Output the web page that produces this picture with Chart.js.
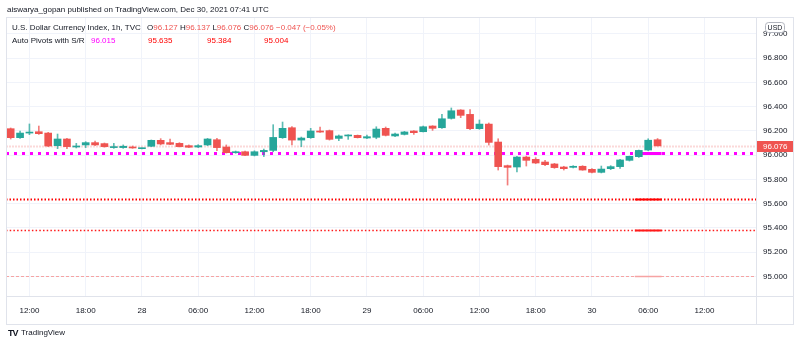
<!DOCTYPE html>
<html>
<head>
<meta charset="utf-8">
<script src="https://cdn.jsdelivr.net/npm/chart.js@4.4.1/dist/chart.umd.min.js"></script>
<style>
  body { margin: 0; background: #fff; font-family: 'Liberation Sans', Arial, sans-serif; }
  #wrap { position: relative; width: 800px; height: 343px; overflow: hidden; }
  #wrap canvas { position: absolute; left: 0; top: 0; }
  .txt { position: absolute; white-space: pre; font-size: 8px; line-height: 10px; color: #131722; }
  .red { color: #ef5350; }
  .mag { color: #ff00ff; }
  .pv { color: #ff0000; }
  .logo { font-weight: 900; font-size: 9px; letter-spacing: -1px; }
</style>
</head>
<body>
<div id="wrap">
  <canvas id="dxy" width="800" height="343"></canvas>
  <div class="txt" style="left:7px; top:5px; font-size:8px;">aiswarya_gopan published on TradingView.com, Dec 30, 2021 07:41 UTC</div>

  <div class="txt" style="left:12px; top:23px;">U.S. Dollar Currency Index, 1h, TVC</div>
  <div class="txt" style="left:147px; top:23px;">O<span class="red">96.127</span> H<span class="red">96.137</span> L<span class="red">96.076</span> C<span class="red">96.076</span> <span class="red">−0.047 (−0.05%)</span></div>

  <div class="txt" style="left:12px; top:36px;">Auto Pivots with S/R</div>
  <div class="txt mag" style="left:91px; top:36px;">96.015</div>
  <div class="txt pv" style="left:148px; top:36px;">95.635</div>
  <div class="txt pv" style="left:207px; top:36px;">95.384</div>
  <div class="txt pv" style="left:264px; top:36px;">95.004</div>

  <div class="txt logo" style="left:8px; top:328px;">TV</div>
  <div class="txt" style="left:21px; top:328px;">TradingView</div>
</div>

<script>
// hourly slots, first candle at Dec 27 10:00 UTC
const startDay = 27;
const startHour = 10;
const slotCount = 80;

const open = [
  96.218, 96.144, 96.182, 96.193, 96.182, 96.078, 96.133, 96.067, 96.084, 96.103,
  96.095, 96.062, 96.062, 96.067, 96.053, 96.073, 96.122, 96.103, 96.097, 96.078,
  96.067, 96.084, 96.127, 96.067, 96.020, 96.028, 95.998, 96.028, 96.039, 96.144,
  96.226, 96.124, 96.144, 96.199, 96.202, 96.138, 96.158, 96.163, 96.141, 96.147,
  96.221, 96.158, 96.171, 96.199, 96.193, 96.240, 96.226, 96.303, 96.372, 96.336,
  96.218, 96.256, 96.108, 95.913, 95.902, 95.984, 95.965, 95.943, 95.927, 95.902,
  95.899, 95.908, 95.883, 95.858, 95.888, 95.905, 95.957, 95.987, 96.042, 96.127
];
const high = [
  96.224, 96.199, 96.257, 96.240, 96.188, 96.174, 96.138, 96.097, 96.111, 96.116,
  96.100, 96.097, 96.084, 96.075, 96.059, 96.125, 96.136, 96.133, 96.103, 96.084,
  96.086, 96.138, 96.138, 96.084, 96.034, 96.034, 96.036, 96.050, 96.251, 96.273,
  96.235, 96.149, 96.221, 96.232, 96.207, 96.166, 96.168, 96.166, 96.166, 96.234,
  96.232, 96.182, 96.196, 96.202, 96.240, 96.243, 96.336, 96.389, 96.375, 96.375,
  96.290, 96.265, 96.135, 95.918, 95.990, 95.992, 95.979, 95.957, 95.932, 95.908,
  95.913, 95.913, 95.888, 95.910, 95.913, 95.965, 95.992, 96.042, 96.135, 96.137
];
const low = [
  96.133, 96.138, 96.169, 96.171, 96.070, 96.053, 96.053, 96.059, 96.062, 96.078,
  96.065, 96.056, 96.056, 96.056, 96.051, 96.070, 96.084, 96.086, 96.067, 96.062,
  96.062, 96.078, 96.036, 96.017, 96.015, 95.996, 95.993, 95.988, 96.028, 96.138,
  96.084, 96.070, 96.138, 96.188, 96.124, 96.119, 96.130, 96.141, 96.135, 96.135,
  96.158, 96.152, 96.166, 96.171, 96.191, 96.204, 96.221, 96.297, 96.309, 96.210,
  96.213, 96.083, 95.877, 95.753, 95.861, 95.910, 95.930, 95.913, 95.891, 95.877,
  95.894, 95.875, 95.853, 95.853, 95.880, 95.891, 95.951, 95.981, 96.036, 96.076
];
const close = [
  96.144, 96.182, 96.190, 96.177, 96.075, 96.133, 96.070, 96.075, 96.103, 96.084,
  96.070, 96.067, 96.073, 96.059, 96.059, 96.122, 96.092, 96.089, 96.070, 96.065,
  96.078, 96.133, 96.062, 96.020, 96.028, 95.998, 96.028, 96.039, 96.146, 96.221,
  96.124, 96.141, 96.199, 96.190, 96.130, 96.158, 96.166, 96.144, 96.152, 96.215,
  96.163, 96.174, 96.191, 96.185, 96.234, 96.221, 96.300, 96.366, 96.328, 96.218,
  96.256, 96.105, 95.905, 95.899, 95.984, 95.957, 95.935, 95.921, 95.897, 95.888,
  95.908, 95.877, 95.858, 95.885, 95.905, 95.960, 95.990, 96.039, 96.123, 96.076
];

const lastPrice = 96.076;
const pivotLevels = [96.015, 95.635, 95.384, 95.004];
const pivotStyles = [
  { color: '#ff00ff', width: 3, dash: [3, 5], seg: 3 },
  { color: '#ff0000', width: 2, dash: [1.5, 2], seg: 2 },
  { color: '#ff1a1a', width: 1.5, dash: [1.5, 2.2], seg: 2 },
  { color: '#f6a3a3', width: 1, dash: [3, 2], seg: 1.5 }
];
// current pivot period: from the 05:00 bar onwards
const pivotFrom = 67;
const pivotTo = 69;

const UP = '#26a69a';
const DOWN = '#ef5350';
const TEXT = '#131722';
const GRID = '#f0f3fa';
const FRAME = '#e0e3eb';

const times = [];
for (let i = 0; i < slotCount; i++) {
  const t = startHour + i;
  times.push({ day: startDay + Math.floor(t / 24), hour: t % 24 });
}
const categories = times.map(t => t.day + ' ' + String(t.hour).padStart(2, '0') + ':00');

function tickText(t) {
  return t.hour === 0 ? String(t.day) : String(t.hour).padStart(2, '0') + ':00';
}

const candleColors = open.map((o, i) => close[i] >= o ? UP : DOWN);
const wickColors = open.map((o, i) => close[i] >= o ? 'rgba(38,166,154,0.75)' : 'rgba(239,83,80,0.75)');
const bodies = open.map((o, i) => [o, close[i]]);
const wicks = low.map((l, i) => [l, high[i]]);

Chart.defaults.font.family = "'Liberation Sans', Arial, sans-serif";

const overlays = {
  id: 'overlays',
  beforeDatasetsDraw(chart) {
    const { ctx, chartArea: a, scales: { x, y } } = chart;
    ctx.save();
    ctx.beginPath();
    ctx.rect(a.left, a.top, a.right - a.left, a.bottom - a.top);
    ctx.clip();

    // last price line
    let py = Math.round(y.getPixelForValue(lastPrice)) + 0.5;
    ctx.strokeStyle = 'rgba(239,83,80,0.22)';
    ctx.lineWidth = 2;
    ctx.setLineDash([2, 1]);
    ctx.beginPath();
    ctx.moveTo(a.left, py);
    ctx.lineTo(a.right, py);
    ctx.stroke();

    // pivot levels
    pivotLevels.forEach((lv, i) => {
      const s = pivotStyles[i];
      const ly = Math.round(y.getPixelForValue(lv)) + 0.5;
      ctx.strokeStyle = s.color;
      ctx.lineWidth = s.width;
      ctx.setLineDash(s.dash);
      ctx.beginPath();
      ctx.moveTo(a.left, ly);
      ctx.lineTo(a.right, ly);
      ctx.stroke();

      ctx.setLineDash([]);
      ctx.lineWidth = s.seg;
      ctx.beginPath();
      ctx.moveTo(x.getPixelForValue(pivotFrom) - 4, ly);
      ctx.lineTo(x.getPixelForValue(pivotTo) + 4, ly);
      ctx.stroke();
    });
    ctx.restore();
  },
  afterDraw(chart) {
    const { ctx, chartArea: a, scales: { y } } = chart;
    const W = chart.width;
    ctx.save();

    // panel frame
    ctx.strokeStyle = FRAME;
    ctx.lineWidth = 1;
    ctx.strokeRect(6.5, 17.5, W - 13, 307);
    ctx.beginPath();
    ctx.moveTo(a.right + 0.5, 17.5);
    ctx.lineTo(a.right + 0.5, 324.5);
    ctx.moveTo(6.5, a.bottom + 0.5);
    ctx.lineTo(W - 6.5, a.bottom + 0.5);
    ctx.stroke();

    // currency badge
    ctx.fillStyle = '#fff';
    ctx.strokeStyle = '#b2b5be';
    ctx.beginPath();
    ctx.roundRect(765.5, 22.5, 19, 10, 3);
    ctx.fill();
    ctx.stroke();
    ctx.fillStyle = TEXT;
    ctx.font = "7px 'Liberation Sans', Arial, sans-serif";
    ctx.textAlign = 'center';
    ctx.textBaseline = 'middle';
    ctx.fillText('USD', 775, 27.8);

    // last price tag
    const py = y.getPixelForValue(lastPrice);
    ctx.fillStyle = DOWN;
    ctx.fillRect(a.right + 1, Math.round(py) - 5, 36, 11);
    ctx.fillStyle = '#fff';
    ctx.font = "8px 'Liberation Sans', Arial, sans-serif";
    ctx.textAlign = 'left';
    ctx.fillText(lastPrice.toFixed(3), a.right + 7, Math.round(py) + 0.5);
    ctx.restore();
  }
};

new Chart(document.getElementById('dxy'), {
  type: 'bar',
  data: {
    labels: categories,
    datasets: [
      {
        label: 'body',
        data: bodies,
        backgroundColor: candleColors,
        barThickness: 7,
        minBarLength: 1,
        grouped: false,
        order: 0
      },
      {
        label: 'wick',
        data: wicks,
        backgroundColor: wickColors,
        barThickness: 1,
        grouped: false,
        order: 1
      }
    ]
  },
  options: {
    responsive: false,
    animation: false,
    layout: { padding: { left: 6, top: 18, right: 7, bottom: 19 } },
    plugins: { legend: { display: false }, tooltip: { enabled: false } },
    scales: {
      x: {
        type: 'category',
        offset: true,
        afterFit(s) { s.height = 28; },
        afterBuildTicks(s) {
          s.ticks = s.ticks.filter(t => times[t.value].hour % 6 === 0);
        },
        ticks: {
          autoSkip: false,
          maxRotation: 0,
          padding: 10,
          color: TEXT,
          font: { size: 8 },
          callback: (v) => tickText(times[v])
        },
        grid: { offset: false, color: GRID, drawTicks: false },
        border: { display: false }
      },
      y: {
        position: 'right',
        min: 94.838,
        max: 97.131,
        afterFit(s) { s.width = 37; },
        ticks: {
          stepSize: 0.2,
          includeBounds: false,
          padding: 7,
          color: TEXT,
          font: { size: 8 },
          callback: (v) => Number(v).toFixed(3)
        },
        grid: { color: GRID, drawTicks: false },
        border: { display: false }
      }
    }
  },
  plugins: [overlays]
});
</script>
</body>
</html>
